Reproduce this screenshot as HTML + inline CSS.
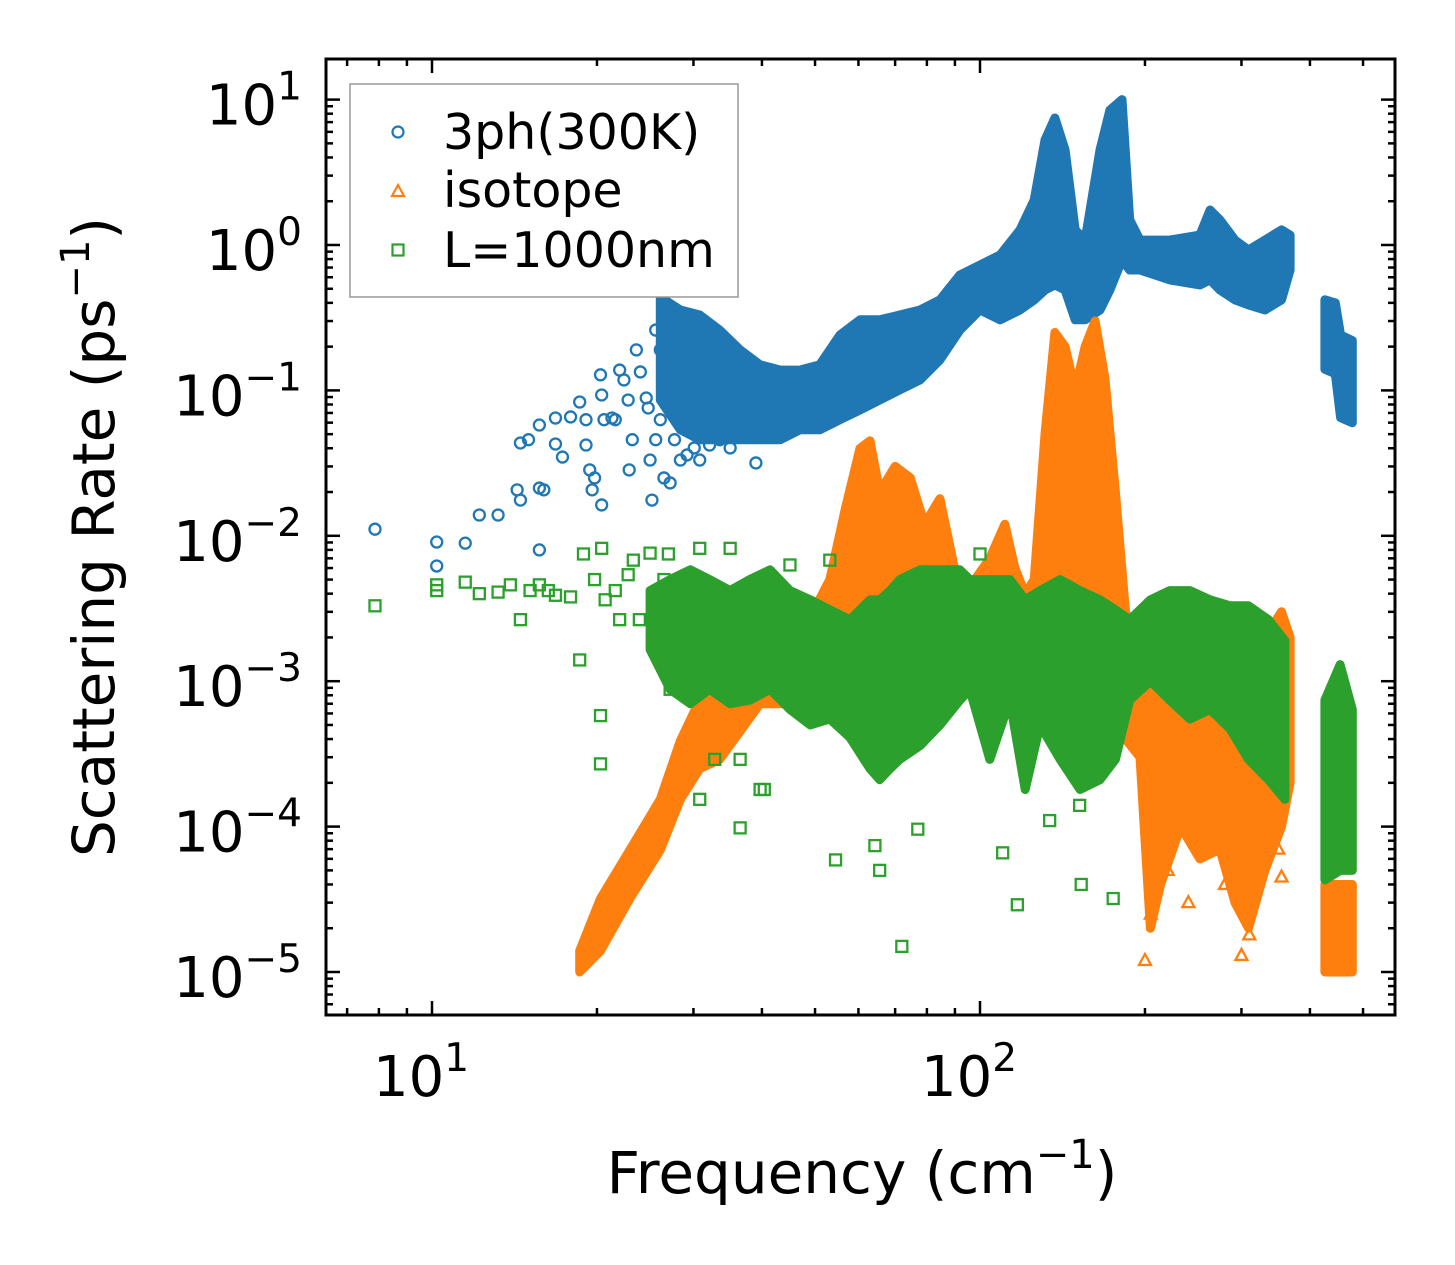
<!DOCTYPE html>
<html><head><meta charset="utf-8"><style>
html,body{margin:0;padding:0;background:#fff}
svg{display:block;font-family:"DejaVu Sans","Liberation Sans",sans-serif}
</style></head><body>
<svg id="chart" width="1455" height="1265" viewBox="0 0 1455 1265" xmlns="http://www.w3.org/2000/svg">
<rect width="1455" height="1265" fill="#fff"/>
<g id="plot"></g>
<g id="axes"></g>
<text x="862" y="1193" font-size="58" text-anchor="middle">Frequency (cm<tspan dy="-25" font-size="40">−1</tspan><tspan dy="25">)</tspan></text>
<text transform="translate(114,537) rotate(-90)" font-size="58" text-anchor="middle">Scattering Rate (ps<tspan dy="-25" font-size="40">−1</tspan><tspan dy="25">)</tspan></text>
<g>
<rect x="350" y="84" width="388" height="213" fill="#fff" stroke="#999" stroke-width="1.5"/>
<g><circle cx="398" cy="132" r="5.5" fill="none" stroke="#1f77b4" stroke-width="2.2"/><text x="443" y="149" font-size="49">3ph(300K)</text></g>
<g><path d="M392 196 L404 196 L398 185 Z" fill="none" stroke="#ff7f0e" stroke-width="2.2"/><text x="443" y="207" font-size="49">isotope</text></g>
<g><rect x="392.5" y="244.5" width="11" height="11" fill="none" stroke="#2ca02c" stroke-width="2.2"/><text x="443" y="267" font-size="49">L=1000nm</text></g>
</g>
</svg>
<script>
// ---- data (frequency cm^-1, rate ps^-1) ----
const blueBandFreq=[26.1,28.4,30.8,33.5,36.5,39.7,43.2,46.9,51.0,55.5,60.4,65.6,71.4,77.7,84.5,91.9,100,108.8,118.3,125.6,131.4,137,143,149.2,155.5,165.6,172.6,181.6,187.6,195.9,222,251.9,263,274,292,309,331,355,368];
const blueBandHi=[0.439,0.357,0.330,0.260,0.190,0.150,0.138,0.138,0.150,0.240,0.306,0.306,0.330,0.357,0.419,0.622,0.729,0.854,1.27,2.04,5.27,7.47,4.5,1.27,1.08,4.5,8.47,10,1.49,1.08,1.08,1.17,1.74,1.49,1.08,0.924,1.08,1.27,1.17];
const blueBandLo=[0.0859,0.0536,0.0458,0.0458,0.0458,0.0458,0.0458,0.0536,0.0536,0.0629,0.0733,0.0859,0.101,0.118,0.162,0.260,0.357,0.306,0.357,0.419,0.490,0.531,0.490,0.306,0.306,0.357,0.490,0.789,0.673,0.673,0.575,0.531,0.575,0.490,0.419,0.387,0.357,0.419,0.673];
const blue2Freq=[426,445,455,478];
const blue2Hi=[0.42,0.40,0.24,0.22];
const blue2Lo=[0.14,0.13,0.065,0.06];
const blueSparse=[[7.87,0.0111],[10.2,0.00906],[10.2,0.0062],[11.5,0.0089],[12.2,0.0139],[13.2,0.0139],[14.3,0.0207],[14.5,0.0176],[15.7,0.0080],[15.7,0.0213],[16.0,0.0207],[14.5,0.0435],[15.0,0.0458],[15.7,0.0578],[16.8,0.0646],[16.8,0.0428],[17.3,0.0348],[17.9,0.0657],[18.6,0.0832],[19.1,0.0629],[19.1,0.0421],[19.4,0.0284],[19.6,0.0207],[19.8,0.025],[20.3,0.128],[20.4,0.093],[20.4,0.0163],[20.6,0.0629],[21.3,0.0646],[21.6,0.0629],[22.0,0.138],[22.4,0.118],[22.8,0.0859],[22.9,0.0284],[23.2,0.0458],[23.6,0.190],[24.0,0.134],[24.6,0.0887],[24.8,0.0757],[25.0,0.0332],[25.2,0.0176],[25.6,0.0458],[26.1,0.0629],[26.5,0.025],[27.2,0.0231],[27.7,0.0458],[28.4,0.0332],[29.2,0.036],[30.1,0.0402],[30.8,0.0332],[32.1,0.0421],[33.5,0.0458],[35.0,0.0402],[39.0,0.0317],[37.2,0.0536],[26.1,0.190],[25.6,0.260],[26.8,0.150],[29.5,0.118],[31.8,0.0859]];
const orangeBandFreq=[18.6,20.3,22.97,26.1,28.4,30.8,33.5,39.7,46.9,53.2,56.7,60.4,63.0,65.6,70.0,74.6,79.2,84.5,89.8,93.9,104.2,111,115.8,120.9,125.6,131.4,137,143,149.2,155.5,162.2,169.1,176.6,184.3,195.9,204.6,213.6,232.3,251.9,274,292,309,331,355,368];
const orangeBandHi=[1.4e-5,3.2e-5,6.9e-5,1.54e-4,3.9e-4,7.4e-4,1e-3,1.5e-3,2e-3,0.005,0.015,0.040,0.045,0.02,0.03,0.025,0.012,0.018,0.006,0.004,0.007,0.012,0.006,0.004,0.005,0.05,0.25,0.2,0.1,0.2,0.3,0.12,0.02,0.003,0.0015,0.0015,0.002,0.002,0.0015,0.0012,0.0015,0.002,0.002,0.003,0.002];
const orangeBandLo=[1.0e-5,1.4e-5,3.2e-5,6.9e-5,1.54e-4,2.5e-4,2.9e-4,7e-4,7e-4,1e-3,1e-3,1.5e-3,2e-3,2e-3,2e-3,2e-3,2e-3,2e-3,1.5e-3,1.5e-3,1.5e-3,1.5e-3,1.5e-3,1.5e-3,1.5e-3,2e-3,3e-3,4e-3,5e-3,4e-3,3e-3,1.5e-3,8e-4,4e-4,3e-4,2e-5,4e-5,1e-4,6e-5,7e-5,3e-5,2e-5,5e-5,1e-4,2e-4];
const orange2Freq=[426,478];
const orange2Hi=[4e-5,4e-5];
const orange2Lo=[1e-5,1e-5];
const greenBandFreq=[25.0,27.2,29.6,32.1,35.0,38.0,41.4,45.0,49.0,53.2,57.9,63.0,65.6,68.5,71.4,77.7,84.5,91.9,95.8,104.2,113.4,120.9,128.7,140,152.3,165.6,176.6,187.6,204.6,222,241.6,263,286,309,336,360];
const greenBandHi=[0.0042,0.0050,0.00584,0.0050,0.0042,0.0050,0.00584,0.0042,0.00363,0.0031,0.00265,0.00363,0.00363,0.0042,0.0050,0.00584,0.00584,0.00584,0.0050,0.0050,0.0050,0.00363,0.0042,0.0050,0.0042,0.00363,0.0031,0.00265,0.00363,0.0042,0.0042,0.00363,0.0033,0.0033,0.00265,0.0019];
const greenBandLo=[0.00165,0.00088,0.00070,0.00088,0.00070,0.00074,0.00088,0.00064,0.00050,0.00055,0.00041,0.00025,0.00021,0.00025,0.00029,0.00036,0.00050,0.00074,0.00088,0.00029,0.00074,0.00018,0.00050,0.00029,0.00018,0.00021,0.00029,0.00074,0.0010,0.00074,0.00055,0.00064,0.00047,0.00029,0.00021,0.000154];
const green2Freq=[426,454,478];
const green2Hi=[0.00074,0.0013,0.00064];
const green2Lo=[4.3e-5,5.0e-5,5.0e-5];
const greenSparse=[[7.87,0.0033],[10.2,0.0046],[10.2,0.0042],[11.5,0.0048],[12.2,0.0040],[13.2,0.0041],[13.9,0.0046],[14.5,0.00265],[15.1,0.0042],[15.7,0.0046],[16.3,0.0042],[16.8,0.0039],[17.9,0.0038],[18.6,0.0014],[18.9,0.0075],[20.3,0.00058],[20.3,0.00027],[20.4,0.0082],[19.8,0.0050],[20.7,0.00363],[21.6,0.0042],[22.0,0.00265],[22.8,0.0054],[23.3,0.0068],[23.9,0.00265],[25.0,0.0076],[25.6,0.0019],[26.1,0.00363],[26.5,0.005],[27.0,0.0075],[27.2,0.00088],[27.9,0.00165],[36.5,9.8e-5],[40.4,0.00018],[54.5,5.9e-5],[64.3,7.4e-5],[65.6,5.0e-5],[72,1.5e-5],[77,9.6e-5],[110,6.6e-5],[117,2.9e-5],[153,4.0e-5],[175,3.2e-5],[134,0.00011],[152,0.00014],[30.8,0.0082],[35,0.0082],[45,0.0063],[53.2,0.0068],[100,0.0075],[30.8,0.000154],[32.8,0.00029],[36.5,0.00029],[39.7,0.00018]];
const orangeSparse=[[200,1.2e-5],[205,2.5e-5],[240,3e-5],[300,1.3e-5],[310,1.8e-5],[355,4.5e-5],[350,7e-5],[220,5e-5],[280,4e-5]];
const xTickVals=[10,100];
const xTickExp=["1","2"];
const yTickVals=[10,1,0.1,0.01,0.001,1e-4,1e-5];
const yTickExp=["1","0","−1","−2","−3","−4","−5"];

// ---- axes ----
const L=326,R=1395,T=59,B=1015;
const X=f=>432+548*(Math.log10(f)-1);
const Y=r=>245-145.4*Math.log10(r);
const NS="http://www.w3.org/2000/svg";
const plot=document.getElementById('plot'), axes=document.getElementById('axes');
function mk(tag,attrs,parent){const e=document.createElementNS(NS,tag);for(const k in attrs)e.setAttribute(k,attrs[k]);parent.appendChild(e);return e;}

function band(fr,hi,lo,color,name){
  const pts=[];
  for(let i=0;i<fr.length;i++)pts.push(X(fr[i]).toFixed(1)+','+Y(hi[i]).toFixed(1));
  for(let i=fr.length-1;i>=0;i--)pts.push(X(fr[i]).toFixed(1)+','+Y(lo[i]).toFixed(1));
  const p=mk('polygon',{points:pts.join(' '),fill:color,stroke:color,'stroke-width':9,'stroke-linejoin':'round'},plot);
  
  
}
function marker(kind,f,r,color,name){
  const x=X(f),y=Y(r);let e;
  if(kind==='o')e=mk('circle',{cx:x,cy:y,r:5.5,fill:'none',stroke:color,'stroke-width':2.3},plot);
  else if(kind==='s')e=mk('rect',{x:x-5.5,y:y-5.5,width:11,height:11,fill:'none',stroke:color,'stroke-width':2.3},plot);
  else e=mk('path',{d:`M${x-6} ${y+4.5} L${x+6} ${y+4.5} L${x} ${y-6.5} Z`,fill:'none',stroke:color,'stroke-width':2.3},plot);
  
  
}
const CB='#1f77b4',CO='#ff7f0e',CG='#2ca02c';
band(blueBandFreq,blueBandHi,blueBandLo,CB,'3ph-dense-band');
band(blue2Freq,blue2Hi,blue2Lo,CB,'3ph-high-freq-band');
blueSparse.forEach(p=>marker('o',p[0],p[1],CB,'3ph-point'));
band(orangeBandFreq,orangeBandHi,orangeBandLo,CO,'isotope-band');
band(orange2Freq,orange2Hi,orange2Lo,CO,'isotope-high-freq-band');
orangeSparse.forEach(p=>marker('t',p[0],p[1],CO,'isotope-point'));
band(greenBandFreq,greenBandHi,greenBandLo,CG,'boundary-band');
band(green2Freq,green2Hi,green2Lo,CG,'boundary-high-freq-band');
greenSparse.forEach(p=>marker('s',p[0],p[1],CG,'boundary-point'));

// clip
const cp=mk('clipPath',{id:'clip'},document.getElementById('chart'));
mk('rect',{x:L,y:T,width:R-L,height:B-T},cp);
plot.setAttribute('clip-path','url(#clip)');

// ticks
function tick(x1,y1,x2,y2){const l=mk('line',{x1,y1,x2,y2,stroke:'#000','stroke-width':2.5},axes);}
for(let d=0;d<=2;d++){for(let m=1;m<10;m++){const f=m*Math.pow(10,d);const x=X(f);if(x<L||x>R)continue;const len=m===1?14:7;tick(x,B,x,B-len);tick(x,T,x,T+len);}}
for(let d=-6;d<=1;d++){for(let m=1;m<10;m++){const r=m*Math.pow(10,d);const y=Y(r);if(y<T||y>B)continue;const len=m===1?14:7;tick(L,y,L+len,y);tick(R,y,R-len,y);}}
xTickVals.forEach((v,i)=>{const t=mk('text',{x:X(v)-11,y:1096,'font-size':56,'text-anchor':'middle'},axes);t.textContent='10';const s=mk('tspan',{dy:-25,'font-size':39},t);s.textContent=xTickExp[i];});
yTickVals.forEach((v,i)=>{const t=mk('text',{x:302,y:Y(v)+25,'font-size':56,'text-anchor':'end'},axes);t.textContent='10';const s=mk('tspan',{dy:-25,'font-size':39},t);s.textContent=yTickExp[i];});
const frame=mk('rect',{x:L,y:T,width:R-L,height:B-T,fill:'none',stroke:'#000','stroke-width':3},axes);


</script>
</body></html>
